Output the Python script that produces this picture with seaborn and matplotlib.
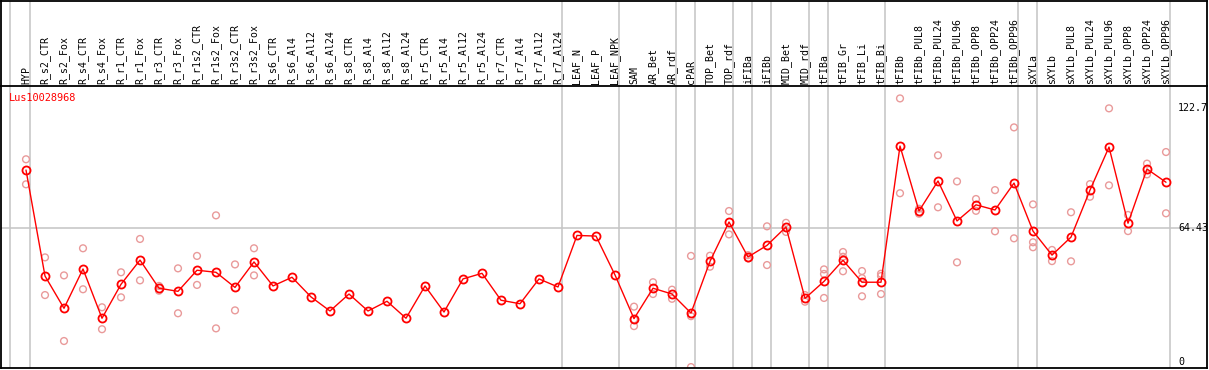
import matplotlib
matplotlib.use("Agg")
import matplotlib.pyplot as plt
import seaborn as sns
import pandas as pd

categories = ["HYP", "R_s2_CTR", "R_s2_Fox", "R_s4_CTR", "R_s4_Fox", "R_r1_CTR", "R_r1_Fox",
              "R_r3_CTR", "R_r3_Fox", "R_r1s2_CTR", "R_r1s2_Fox", "R_r3s2_CTR", "R_r3s2_Fox",
              "R_s6_CTR", "R_s6_Al4", "R_s6_Al12", "R_s6_Al24", "R_s8_CTR", "R_s8_Al4",
              "R_s8_Al12", "R_s8_Al24", "R_r5_CTR", "R_r5_Al4", "R_r5_Al12", "R_r5_Al24",
              "R_r7_CTR", "R_r7_Al4", "R_r7_Al12", "R_r7_Al24", "LEAF_N", "LEAF_P", "LEAF_NPK",
              "SAM", "AR_Bet", "AR_rdf", "cPAR", "TOP_Bet", "TOP_rdf", "iFIBa", "iFIBb",
              "MID_Bet", "MID_rdf", "tFIBa", "tFIB_Gr", "tFIB_Li", "tFIB_Bi", "tFIBb",
              "tFIBb_PUL8", "tFIBb_PUL24", "tFIBb_PUL96", "tFIBb_OPP8", "tFIBb_OPP24",
              "tFIBb_OPP96", "sXYLa", "sXYLb", "sXYLb_PUL8", "sXYLb_PUL24", "sXYLb_PUL96",
              "sXYLb_OPP8", "sXYLb_OPP24", "sXYLb_OPP96"]

means = [92.6, 41.4, 25.8, 44.8, 21.0, 37.4, 49.1, 35.5, 34.0, 44.2, 43.2, 35.9, 48.2,
         36.6, 40.8, 31.3, 24.5, 32.7, 24.5, 29.2, 21.0, 36.6, 24.0, 40.0, 42.7,
         29.7, 28.0, 40.0, 36.1, 61.0, 60.7, 41.9,
         20.8, 35.5, 32.7, 23.5, 48.5, 67.5, 50.6, 56.2, 65.1, 30.6, 38.8, 49.0, 38.4, 38.4,
         104.2, 72.8, 87.3, 68.0, 75.8, 73.3, 86.3,
         63.1, 51.5, 60.2, 82.9, 103.7, 66.9, 93.1, 86.7]

replicates = [[97.8, 85.7], [50.4, 32.2], [41.7, 10.0], [54.8, 35.0], [26.3, 15.7],
              [43.2, 31.1], [59.3, 39.3], [36.6, 34.3], [45.1, 23.4], [51.1, 37.1],
              [70.7, 16.1], [47.0, 24.8], [54.8, 41.7],
              [], [], [], [], [], [], [], [], [], [], [], [], [], [], [], [], [], [], [],
              [26.6, 20.5, 17.2], [38.4, 32.7], [34.8, 30.4], [51.1, 22.0, -2.6],
              [51.2, 45.9], [72.8, 61.5], [51.5, 49.9], [65.4, 46.7], [67.1, 62.7],
              [32.2, 29.0], [44.6, 42.4, 30.8], [53.0, 50.7, 43.7], [43.8, 40.4, 31.6],
              [42.5, 41.4, 32.7],
              [127.2, 81.4], [73.9, 71.5], [99.7, 74.6], [87.1, 48.0], [78.6, 72.9],
              [82.9, 63.0], [113.2, 59.6],
              [76.0, 57.7, 55.3], [54.0, 48.6], [72.2, 48.5], [85.8, 79.7], [122.4, 85.2],
              [70.9, 63.1], [95.7, 90.5], [101.3, 71.7]]

# group separators: line drawn right after these category indices
separators_after = [0, 28, 31, 34, 35, 37, 38, 39, 41, 42, 45, 52, 53, 60]
ytick_vals = [122.7, 64.43, 0]
ytick_labels = ["122.7", "64.43", "0"]
gene = "Lus10028968"

sns.set_style("white")
plt.rcParams["font.family"] = ["DejaVu Sans Mono", "DejaVu Sans"]

W, H = 1209, 370
fig = plt.figure(figsize=(W / 100, H / 100), dpi=100)

def px_box(x0, y0, x1, y1):
    return [x0 / W, (H - y1) / H, (x1 - x0) / W, (y1 - y0) / H]

ax = fig.add_axes(px_box(1, 86, 1207, 368))
hax = fig.add_axes(px_box(1, 0.6, 1207, 86), sharex=ax)

df_mean = pd.DataFrame({"x": range(len(categories)), "y": means})
rx, ry = [], []
for i, reps in enumerate(replicates):
    for v in reps:
        rx.append(i)
        ry.append(v)
df_rep = pd.DataFrame({"x": rx, "y": ry})

grid_col = "#c4c4c4"
ax.axhline(ytick_vals[1], color=grid_col, lw=1.1, zorder=0)
sep_pos = [-0.84] + [s + 0.21 for s in separators_after]
for p in sep_pos:
    ax.axvline(p, color=grid_col, lw=1.1, zorder=0)
    hax.axvline(p, color=grid_col, lw=1.1, zorder=0)

sns.scatterplot(data=df_rep, x="x", y="y", ax=ax, marker="o", s=24,
                facecolor="none", edgecolor="#e99a9a", linewidth=1.0, zorder=2)
sns.lineplot(data=df_mean, x="x", y="y", ax=ax, color="#ff0000", lw=1.0,
             marker="o", markersize=5.8, markerfacecolor="none",
             markeredgecolor="#ff0000", markeredgewidth=1.3, zorder=3)

ax.set_xlim((1 - 26) / 19, (1207 - 26) / 19)
ax.set_ylim(-3.04, 133.2)
ax.set_xlabel("")
ax.set_ylabel("")
ax.set_xticks([])
ax.set_yticks([])
for sp in ["left", "bottom", "right"]:
    ax.spines[sp].set_visible(True)
    ax.spines[sp].set_color("black")
    ax.spines[sp].set_linewidth(1.3)
ax.spines["top"].set_visible(False)

xlab = (1178 - 26) / 19
for v, lab in zip(ytick_vals, ytick_labels):
    ax.text(xlab, v, lab, fontsize=7.2, color="black", ha="left", va="center")

ax.text(8 / 1206, 1 - (97.7 - 86) / 282, gene, transform=ax.transAxes,
        fontsize=7.4, color="#ff0000", ha="left", va="center")

hax.set_ylim(0, 1)
hax.set_xticks([])
hax.set_yticks([])
for sp in hax.spines.values():
    sp.set_visible(True)
    sp.set_color("black")
    sp.set_linewidth(1.3)
for i, c in enumerate(categories):
    hax.text(i, (86 - 83.5) / 85.4, c, rotation=90, fontsize=7.1, color="black",
             ha="center", va="bottom")

fig.savefig("out.png", dpi=100)
